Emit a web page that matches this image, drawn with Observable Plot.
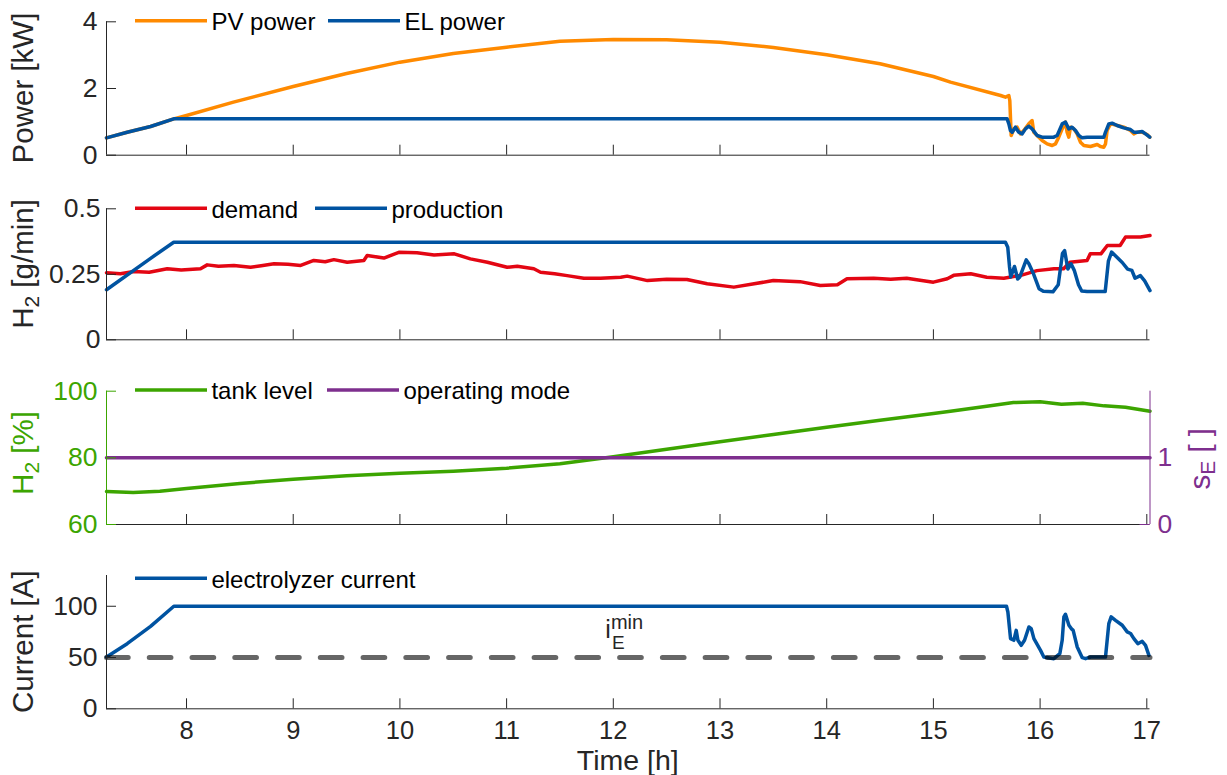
<!DOCTYPE html>
<html>
<head>
<meta charset="utf-8">
<script src="https://cdn.jsdelivr.net/npm/d3@7"></script>
<script src="https://cdn.jsdelivr.net/npm/@observablehq/plot@0.6"></script>
<style>
html, body { margin: 0; padding: 0; background: #fff; }
#chart { position: relative; width: 1227px; height: 775px; }
#chart svg { position: absolute; left: 0; top: 0; }
</style>
</head>
<body>
<div id="chart"></div>
<script>
// ---------------- data ----------------
const timeRange = [7.25, 17.03];
const xTicks = [8, 9, 10, 11, 12, 13, 14, 15, 16, 17];

// Panel 1: power [kW]
const pvTime  = [7.25, 7.444, 7.663, 7.88, 8.0, 8.44, 9.0, 9.5, 10.0, 10.5, 11.0, 11.5, 12.0, 12.5, 13.0, 13.5, 14.0, 14.5, 15.0, 15.16, 15.63, 15.675, 15.707, 15.716, 15.729, 15.754, 15.785, 15.816, 15.847, 15.894, 15.925, 15.941, 15.972, 16.019, 16.066, 16.113, 16.144, 16.175, 16.207, 16.238, 16.253, 16.269, 16.285, 16.316, 16.347, 16.378, 16.41, 16.472, 16.535, 16.566, 16.597, 16.613, 16.628, 16.66, 16.691, 16.784, 16.847, 16.878, 16.909, 16.956, 17.003, 17.028];
const pvPower = [0.52, 0.69, 0.86, 1.09, 1.19, 1.59, 2.06, 2.45, 2.79, 3.05, 3.24, 3.42, 3.47, 3.46, 3.39, 3.23, 3.01, 2.74, 2.36, 2.19, 1.79, 1.74, 1.79, 1.64, 0.59, 0.79, 0.84, 0.64, 0.74, 0.94, 1.04, 0.69, 0.59, 0.44, 0.34, 0.29, 0.34, 0.54, 0.79, 0.99, 0.69, 0.54, 0.84, 0.79, 0.64, 0.39, 0.29, 0.26, 0.32, 0.26, 0.24, 0.34, 0.74, 0.94, 0.92, 0.84, 0.74, 0.64, 0.69, 0.69, 0.62, 0.54];
const elTime  = [7.25, 7.444, 7.663, 7.88, 15.691, 15.707, 15.722, 15.738, 15.769, 15.8, 15.832, 15.863, 15.894, 15.925, 15.972, 16.019, 16.128, 16.16, 16.207, 16.238, 16.269, 16.3, 16.332, 16.363, 16.394, 16.441, 16.597, 16.613, 16.644, 16.675, 16.722, 16.784, 16.847, 16.878, 16.909, 16.956, 16.988, 17.028];
const elPower = [0.52, 0.69, 0.86, 1.09, 1.09, 0.94, 0.74, 0.69, 0.84, 0.69, 0.64, 0.79, 0.87, 0.79, 0.59, 0.54, 0.54, 0.59, 0.94, 0.99, 0.79, 0.84, 0.74, 0.59, 0.52, 0.54, 0.54, 0.69, 0.94, 0.96, 0.89, 0.82, 0.77, 0.69, 0.69, 0.71, 0.64, 0.54];

// Panel 2: H2 [g/min]
const demandTime = [7.25, 7.38, 7.506, 7.65, 7.819, 7.95, 8.131, 8.194, 8.3, 8.444, 8.6, 8.7, 8.82, 8.95, 9.07, 9.193, 9.3, 9.381, 9.506, 9.662, 9.693, 9.85, 9.99, 10.16, 10.32, 10.51, 10.66, 10.82, 11.005, 11.1, 11.255, 11.318, 11.45, 11.567, 11.724, 11.88, 12.07, 12.13, 12.32, 12.5, 12.69, 12.88, 13.13, 13.32, 13.5, 13.75, 13.94, 14.1, 14.19, 14.44, 14.6, 14.75, 15.0, 15.13, 15.19, 15.35, 15.5, 15.66, 15.82, 15.97, 16.13, 16.22, 16.28, 16.44, 16.47, 16.57, 16.63, 16.75, 16.8, 16.94, 17.03];
const demandFlow = [0.256, 0.252, 0.261, 0.258, 0.271, 0.266, 0.271, 0.286, 0.281, 0.284, 0.277, 0.283, 0.29, 0.288, 0.284, 0.303, 0.298, 0.306, 0.296, 0.303, 0.322, 0.312, 0.334, 0.332, 0.324, 0.328, 0.309, 0.296, 0.277, 0.281, 0.271, 0.258, 0.252, 0.245, 0.235, 0.235, 0.239, 0.243, 0.226, 0.231, 0.23, 0.214, 0.201, 0.214, 0.226, 0.222, 0.207, 0.21, 0.233, 0.235, 0.231, 0.235, 0.22, 0.233, 0.246, 0.252, 0.239, 0.235, 0.246, 0.264, 0.271, 0.271, 0.296, 0.303, 0.328, 0.328, 0.36, 0.36, 0.392, 0.392, 0.398];
const prodTime = [7.25, 7.66, 7.88, 15.675, 15.697, 15.713, 15.725, 15.76, 15.79, 15.81, 15.87, 15.895, 15.94, 15.99, 16.03, 16.12, 16.17, 16.21, 16.23, 16.26, 16.29, 16.32, 16.36, 16.39, 16.44, 16.61, 16.64, 16.67, 16.72, 16.77, 16.82, 16.86, 16.89, 16.94, 16.98, 17.03];
const prodFlow = [0.191, 0.31, 0.3725, 0.3725, 0.353, 0.28, 0.24, 0.28, 0.232, 0.24, 0.305, 0.29, 0.25, 0.195, 0.185, 0.183, 0.21, 0.33, 0.34, 0.27, 0.29, 0.265, 0.21, 0.186, 0.184, 0.184, 0.30, 0.335, 0.315, 0.295, 0.27, 0.265, 0.235, 0.245, 0.225, 0.188];

// Panel 3: tank level [%] and operating mode s_E [ ]
const tankTime  = [7.25, 7.5, 7.75, 8.0, 8.5, 9.0, 9.5, 10.0, 10.5, 11.0, 11.5, 12.0, 12.5, 13.0, 13.5, 14.0, 14.5, 15.0, 15.16, 15.5, 15.75, 16.0, 16.2, 16.4, 16.6, 16.8, 17.03];
const tankLevel = [69.9, 69.6, 70.0, 70.8, 72.3, 73.6, 74.6, 75.4, 76.0, 76.9, 78.2, 80.3, 82.6, 84.8, 87.0, 89.2, 91.3, 93.3, 94.0, 95.5, 96.6, 96.8, 96.1, 96.4, 95.6, 95.2, 94.0];
const modeTime  = [7.25, 17.03];
const modeValue = [1, 1];

// Panel 4: electrolyzer current [A]
const currentTime = [7.25, 7.444, 7.663, 7.881, 15.685, 15.698, 15.723, 15.754, 15.776, 15.792, 15.823, 15.854, 15.895, 15.917, 15.942, 16.004, 16.035, 16.129, 16.185, 16.207, 16.223, 16.238, 16.27, 16.292, 16.31, 16.348, 16.395, 16.426, 16.473, 16.613, 16.644, 16.666, 16.707, 16.77, 16.816, 16.848, 16.879, 16.916, 16.957, 16.988, 17.02];
const currentValue = [50.5, 63.5, 80.4, 100, 100, 94.4, 68.4, 66.8, 76.5, 66.8, 61.9, 66.8, 79.8, 78.2, 68.4, 57, 50.5, 48.9, 53.8, 66.8, 89.6, 92.2, 81.5, 78.2, 76.5, 60.3, 49.9, 48.9, 50.5, 50.5, 83.1, 89.6, 86.3, 81.5, 75, 73.4, 68.4, 63.5, 65.8, 61.9, 52.1];
const iMinTime  = [7.25, 17.03];
const iMinValue = [50, 50];
const iMinLabelAt = {t: 11.93, v: 50};

// tick values / labels
const powerTicks = [0, 2, 4];
const h2Ticks = [0, 0.25, 0.5];
const tankTicks = [60, 80, 100];
const modeTicks = [0, 1];
const currentTicks = [0, 50, 100];
const legend1 = ["PV power", "EL power"];
const legend2 = ["demand", "production"];
const legend3 = ["tank level", "operating mode"];
const legend4 = ["electrolyzer current"];

// ---------------- drawing ----------------
const W = 1227, H = 775, ML = 106, MR = 1227 - 1149.5, PW = W - ML - MR;
const INK = "#262626";
const FONT = '"Liberation Sans", Arial, Helvetica, sans-serif';
const ORANGE = "#ff8a00", BLUE = "#0053a1", RED = "#e30613", GREEN = "#3ca500", PURPLE = "#7e2f8e";
const LW = 3.5, TICKFS = 26.5, XTICKFS = 25.5, LABELFS = 29.5, LEGFS = 24;
const chart = document.getElementById("chart");
const rows = (t, v) => t.map((x, i) => ({t: x, v: v[i]}));
// right axis s_E in [0,2] shares the frame with tank level [60,100]
const modeToLeft = s => 60 + 20 * s;

function panel(o) {
  const ph = o.bottom - o.top;
  const yc = o.yColor || INK;
  const marks = [
    ...o.marks,
    Plot.ruleY([o.yDomain[0]], {stroke: INK, strokeWidth: 1}),
    Plot.ruleX([timeRange[0]], {stroke: yc, strokeWidth: 1}),
    Plot.tickX(xTicks, {x: d => d, insetTop: ph - 10, stroke: INK, strokeWidth: 1}),
    Plot.tickY(o.yTicks, {y: d => d, insetRight: PW - 10, stroke: yc, strokeWidth: 1}),
    Plot.axisY(o.yTicks, {tickSize: 0, tickPadding: o.yPad ?? 9, tickFormat: d => String(d), label: null, fill: yc, fontSize: TICKFS}),
    ...(o.extra || [])
  ];
  if (o.xLabels) marks.push(Plot.axisX(xTicks, {tickSize: 0, tickPadding: 12, tickFormat: d => String(d), label: null, fill: INK, fontSize: XTICKFS}));
  const svg = Plot.plot({
    width: W, height: H,
    marginLeft: ML, marginRight: MR, marginTop: o.top, marginBottom: H - o.bottom,
    style: {background: "transparent", fontFamily: FONT, color: INK, overflow: "visible"},
    x: o.xLabels ? {domain: timeRange} : {domain: timeRange, axis: null},
    y: {domain: o.yDomain},
    marks
  });
  chart.appendChild(svg);
  return svg;
}

function vlabel(svg, x, y, parts, color) {
  const t = d3.select(svg).append("text")
    .attr("transform", `translate(${x},${y}) rotate(-90)`)
    .attr("text-anchor", "middle").attr("font-family", FONT).attr("font-size", LABELFS)
    .attr("fill", color).style("white-space", "pre");
  parts.forEach(p => {
    const s = t.append("tspan").text(p.text);
    if (p.size) s.attr("font-size", p.size);
    if (p.dy) s.attr("dy", p.dy);
  });
}

function legend(svg, y, items) {
  const g = d3.select(svg).append("g").attr("font-family", FONT).attr("font-size", LEGFS).attr("text-anchor", "start");
  items.forEach(it => {
    g.append("line").attr("x1", it.x).attr("x2", it.x + 72).attr("y1", y).attr("y2", y)
      .attr("stroke", it.color).attr("stroke-width", LW);
    g.append("text").attr("x", it.x + 76.4).attr("y", y).attr("dy", "0.39em")
      .attr("text-anchor", "start").attr("fill", "#000").text(it.label);
  });
}

// Panel 1
const s1 = panel({
  top: 21.3, bottom: 154.7, yDomain: [0, 4], yTicks: powerTicks,
  marks: [
    Plot.line(rows(pvTime, pvPower), {x: "t", y: "v", stroke: ORANGE, strokeWidth: LW, strokeLinejoin: "round"}),
    Plot.line(rows(elTime, elPower), {x: "t", y: "v", stroke: BLUE, strokeWidth: LW, strokeLinejoin: "round"})
  ]
});
vlabel(s1, 33, 88, [{text: "Power [kW]"}], INK);
legend(s1, 20.7, [{x: 135, color: ORANGE, label: legend1[0]}, {x: 328, color: BLUE, label: legend1[1]}]);

// Panel 2
const s2 = panel({
  top: 208.3, bottom: 339.3, yDomain: [0, 0.5], yTicks: h2Ticks, yPad: 6,
  marks: [
    Plot.line(rows(demandTime, demandFlow), {x: "t", y: "v", stroke: RED, strokeWidth: LW, strokeLinejoin: "round"}),
    Plot.line(rows(prodTime, prodFlow), {x: "t", y: "v", stroke: BLUE, strokeWidth: LW, strokeLinejoin: "round"})
  ]
});
vlabel(s2, 33, 264, [{text: "H"}, {text: "2", size: 21, dy: 6}, {text: " [g/min]", dy: -6}], INK);
legend(s2, 208.3, [{x: 135, color: RED, label: legend2[0]}, {x: 315, color: BLUE, label: legend2[1]}]);

// Panel 3
const s3 = panel({
  top: 390.7, bottom: 524, yDomain: [60, 100], yTicks: tankTicks, yColor: GREEN,
  marks: [
    Plot.line(rows(tankTime, tankLevel), {x: "t", y: "v", stroke: GREEN, strokeWidth: LW, strokeLinejoin: "round"}),
    Plot.line(rows(modeTime, modeValue.map(modeToLeft)), {x: "t", y: "v", stroke: PURPLE, strokeWidth: LW})
  ],
  extra: [
    Plot.ruleX([timeRange[1]], {stroke: PURPLE, strokeWidth: 1}),
    Plot.tickY(modeTicks.map(modeToLeft), {y: d => d, insetLeft: PW - 10, stroke: PURPLE, strokeWidth: 1}),
    Plot.axisY(modeTicks.map(modeToLeft), {anchor: "right", tickSize: 0, tickPadding: 7.5, tickFormat: d => String((d - 60) / 20), label: null, fill: PURPLE, fontSize: TICKFS})
  ]
});
vlabel(s3, 33, 453, [{text: "H"}, {text: "2", size: 21, dy: 6}, {text: " [%]", dy: -6}], GREEN);
vlabel(s3, 1210, 458.7, [{text: "s"}, {text: "E", size: 21, dy: 5}, {text: " [ ]", dy: -5}], PURPLE);
legend(s3, 390, [{x: 135, color: GREEN, label: legend3[0]}, {x: 327, color: PURPLE, label: legend3[1]}]);

// Panel 4
const s4 = panel({
  top: 575, bottom: 708.3, yDomain: [0, 130], yTicks: currentTicks, xLabels: true,
  marks: [
    Plot.line(rows(currentTime, currentValue), {x: "t", y: "v", stroke: BLUE, strokeWidth: LW, strokeLinejoin: "round"}),
    Plot.line(rows(iMinTime, iMinValue), {x: "t", y: "v", stroke: "#000", strokeOpacity: 0.6, strokeWidth: 5, strokeDasharray: "21.7,21.06"})
  ]
});
vlabel(s4, 33, 641.7, [{text: "Current [A]"}], INK);
legend(s4, 578.3, [{x: 135, color: BLUE, label: legend4[0]}]);
// x-axis title
d3.select(s4).append("text").attr("x", (ML + W - MR) / 2).attr("y", 770)
  .attr("text-anchor", "middle").attr("font-family", FONT).attr("font-size", 28.5).attr("fill", INK).text("Time [h]");
// i_E^min annotation
{
  const sc = s4.scale("x"), sv = s4.scale("y");
  const fx = sc.apply ? v => sc.apply(v) : d3.scaleLinear(sc.domain, sc.range);
  const fy = sv.apply ? v => sv.apply(v) : d3.scaleLinear(sv.domain, sv.range);
  const X = fx(iMinLabelAt.t), Y = fy(iMinLabelAt.v) - 19;
  const a = d3.select(s4).append("text").attr("x", X).attr("y", Y).attr("text-anchor", "start")
    .attr("font-family", FONT).attr("font-size", 25).attr("fill", INK);
  a.append("tspan").text("i");
  a.append("tspan").attr("font-size", 20).attr("dy", -9).text("min");
  a.append("tspan").attr("font-size", 19).attr("x", X + 6.6).attr("dy", 20).text("E");
}
</script>
</body>
</html>
